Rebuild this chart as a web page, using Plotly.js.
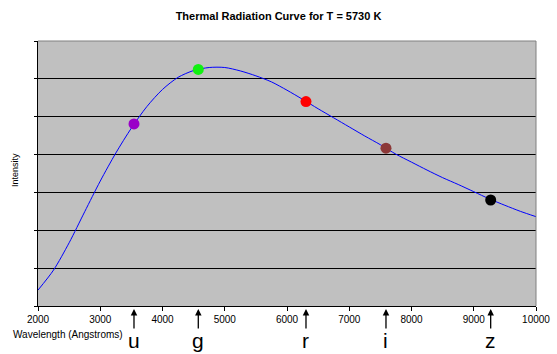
<!DOCTYPE html>
<html>
<head>
<meta charset="utf-8">
<script src="https://cdn.plot.ly/plotly-3.0.1.min.js"></script>
<style>html,body{margin:0;padding:0;background:#fff;}#chart{width:557px;height:354px;}</style>
</head>
<body>
<div id="chart"></div>
<script>
// Curve (wavelength in Angstroms, intensity in gridline units)
const wavelength = [2000,2250,2500,2750,3000,3250,3500,3750,4000,4250,4500,4750,5000,5250,5500,5750,6000,6250,6500,6750,7000,7250,7500,7750,8000,8250,8500,8750,9000,9250,9500,9750,10000];
const intensity  = [0.42,0.95,1.67,2.49,3.30,4.04,4.70,5.27,5.72,6.04,6.22,6.30,6.30,6.21,6.08,5.92,5.70,5.46,5.21,4.97,4.73,4.49,4.26,4.01,3.80,3.59,3.39,3.21,3.02,2.83,2.66,2.50,2.36];

// Filter band points
const bandNames  = ['u','g','r','i','z'];
const bandWave   = [3542,4575,6305,7590,9272];
const bandInten  = [4.81,6.25,5.40,4.17,2.80];
const bandColors = ['#9A00C8','#11F011','#FF0000','#8C3838','#000000'];

const xTicks = [2000,3000,4000,5000,6000,7000,8000,9000,10000];

const FONT = 'Liberation Sans, Arial, sans-serif';

const traces = [
  {x: wavelength, y: intensity, type: 'scatter', mode: 'lines', line: {color: '#0000FF', width: 1, shape: 'spline', smoothing: 0.8}, hoverinfo: 'skip'},
  {x: bandWave, y: bandInten, type: 'scatter', mode: 'markers', marker: {size: 11, color: bandColors}, hoverinfo: 'skip'}
];

const annotations = [];
bandNames.forEach((b, k) => {
  annotations.push({x: bandWave[k], y: 0, xref: 'x', yref: 'paper', ax: 0, ay: 24, text: '', showarrow: true,
    arrowhead: 2, arrowsize: 1, arrowwidth: 1.3, arrowcolor: '#000', standoff: 3});
  annotations.push({x: bandWave[k], y: 0, xref: 'x', yref: 'paper', yanchor: 'top', yshift: -21, text: b, showarrow: false,
    font: {family: FONT, size: 21, color: '#000'}});
});
annotations.push({x: (11 - 38) / 498, y: 0, xref: 'paper', yref: 'paper', xanchor: 'left', yanchor: 'middle', yshift: -28,
  text: 'Wavelength (Angstroms)', showarrow: false, font: {family: FONT, size: 10, color: '#000'}});
annotations.push({x: (15 - 38) / 498, y: (306 - 170) / 265, xref: 'paper', yref: 'paper', xanchor: 'center', yanchor: 'middle',
  text: 'Intensity', textangle: -90, showarrow: false, font: {family: FONT, size: 9, color: '#000'}});

const layout = {
  width: 557, height: 354,
  margin: {l: 38, r: 21, t: 41, b: 48},
  paper_bgcolor: '#FFFFFF',
  plot_bgcolor: '#C0C0C0',
  showlegend: false,
  title: {text: '<b>Thermal Radiation Curve for T = 5730 K</b>', x: 0.5, xref: 'container', y: 1 - 16/354, yref: 'container', yanchor: 'middle',
    font: {family: FONT, size: 11, color: '#000'}},
  xaxis: {range: [2000, 10000], tickvals: xTicks, ticktext: xTicks.map(String), ticks: 'outside', ticklen: 4, tickcolor: '#000',
    showgrid: false, zeroline: false, showline: true, linecolor: '#000', linewidth: 1,
    tickfont: {family: FONT, size: 10, color: '#000'}},
  yaxis: {range: [0, 7], dtick: 1, tick0: 0, showticklabels: false, ticks: 'outside', ticklen: 3, tickcolor: '#000',
    showgrid: true, gridcolor: '#000', gridwidth: 1, zeroline: false, showline: true, linecolor: '#000', linewidth: 1},
  shapes: [
    {type: 'line', xref: 'paper', yref: 'paper', x0: 0, x1: 1, y0: 1, y1: 1, line: {color: '#808080', width: 1}},
    {type: 'line', xref: 'paper', yref: 'paper', x0: 1, x1: 1, y0: 0, y1: 1, line: {color: '#808080', width: 1}}
  ],
  annotations: annotations
};

Plotly.newPlot('chart', traces, layout, {staticPlot: true});
</script>
</body>
</html>
